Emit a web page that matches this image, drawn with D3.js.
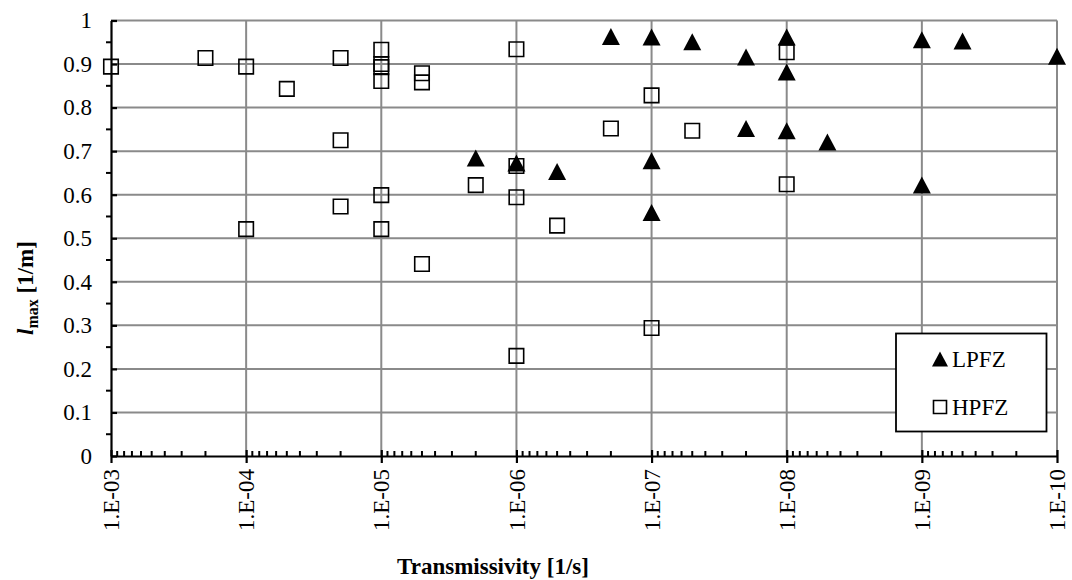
<!DOCTYPE html>
<html><head><meta charset="utf-8">
<script src="https://cdn.jsdelivr.net/npm/d3@7"></script>
<style>body{margin:0;background:#fff}svg{display:block}text{font-family:"Liberation Serif","Times New Roman",serif}</style>
</head><body><svg id="c" width="1072" height="580"></svg>
<script>
// ---- data ----
const lpfzT = [2e-6, 1e-6, 5e-7, 2e-7, 1e-7, 1e-7, 1e-7, 5e-8, 2e-8, 2e-8, 1e-8, 1e-8, 1e-8, 5e-9, 1e-9, 1e-9, 5e-10, 1e-10];
const lpfzL = [0.684, 0.673, 0.653, 0.963, 0.962, 0.678, 0.559, 0.951, 0.916, 0.752, 0.962, 0.882, 0.747, 0.721, 0.956, 0.622, 0.953, 0.918];
const hpfzT = [1e-3, 2e-4, 1e-4, 1e-4, 5e-5, 2e-5, 2e-5, 2e-5, 1e-5, 1e-5, 1e-5, 1e-5, 1e-5, 1e-5, 5e-6, 5e-6, 5e-6, 2e-6, 1e-6, 1e-6, 1e-6, 1e-6, 5e-7, 2e-7, 1e-7, 1e-7, 5e-8, 1e-8, 1e-8];
const hpfzL = [0.894, 0.914, 0.894, 0.521, 0.843, 0.914, 0.725, 0.573, 0.933, 0.900, 0.893, 0.861, 0.599, 0.521, 0.879, 0.858, 0.441, 0.622, 0.934, 0.666, 0.594, 0.230, 0.529, 0.752, 0.828, 0.294, 0.747, 0.927, 0.624];
const xMajor = [1e-3, 1e-4, 1e-5, 1e-6, 1e-7, 1e-8, 1e-9, 1e-10];
const yMajor = [0, 0.1, 0.2, 0.3, 0.4, 0.5, 0.6, 0.7, 0.8, 0.9, 1];
const seriesNames = ["LPFZ", "HPFZ"];
const xTitle = "Transmissivity [1/s]";

// ---- layout ----
const svg = d3.select("#c");
const L = 111, R = 1057, T = 20.5, B = 456;
const x = d3.scaleLog().domain([1e-3, 1e-10]).range([L, R]);
const y = d3.scaleLinear().domain([0, 1]).range([B, T]);
const grid = "#8a8a8a";
const fs = 23;

// gridlines
svg.append("g").selectAll("line").data(yMajor.filter(v => v > 0)).join("line")
  .attr("x1", L).attr("x2", R).attr("y1", d => y(d)).attr("y2", d => y(d))
  .attr("stroke", grid).attr("stroke-width", 2);
svg.append("g").selectAll("line").data(xMajor.slice(1)).join("line")
  .attr("y1", T).attr("y2", B).attr("x1", d => x(d)).attr("x2", d => x(d))
  .attr("stroke", grid).attr("stroke-width", 2);

// minor ticks
const xMinor = x.ticks(80).filter(v => !xMajor.some(m => Math.abs(m - v) / m < 1e-6));
const yMinor = d3.range(0.05, 1, 0.1);

// x axis
const fmt = d => { const e = Math.round(Math.log10(d)); return "1.E-" + String(-e).padStart(2, "0"); };
const xAxis = svg.append("g").attr("transform", `translate(0,${B})`)
  .call(d3.axisBottom(x).tickValues(xMajor).tickFormat(fmt).tickSizeOuter(0).tickSizeInner(7).tickPadding(0));
xAxis.select(".domain").attr("stroke", "#000").attr("stroke-width", 2.2);
xAxis.selectAll(".tick line").attr("stroke", "#000").attr("stroke-width", 2.2).attr("y1", -6);
xAxis.selectAll(".tick text").attr("font-size", fs).attr("fill", "#000")
  .attr("font-family", "Liberation Serif")
  .attr("transform", "rotate(-90)").attr("text-anchor", "end").attr("dy", "0.33em").attr("x", -13).attr("y", 0);
svg.append("g").selectAll("line").data(xMinor).join("line")
  .attr("x1", d => x(d)).attr("x2", d => x(d)).attr("y1", B).attr("y2", B - 5)
  .attr("stroke", "#000").attr("stroke-width", 2);

// y axis
const yAxis = svg.append("g").attr("transform", `translate(${L},0)`)
  .call(d3.axisLeft(y).tickValues(yMajor).tickFormat(d => d === 0 || d === 1 ? String(d) : d.toFixed(1)).tickSizeOuter(0).tickSizeInner(6).tickPadding(13));
yAxis.select(".domain").attr("stroke", "#000").attr("stroke-width", 2.2);
yAxis.selectAll(".tick line").attr("stroke", "#000").attr("stroke-width", 2.2).attr("x2", 6);
yAxis.selectAll(".tick text").attr("font-size", fs).attr("fill", "#000").attr("font-family", "Liberation Serif");
svg.append("g").selectAll("line").data(yMinor).join("line")
  .attr("x1", L - 5).attr("x2", L).attr("y1", d => y(d)).attr("y2", d => y(d))
  .attr("stroke", "#000").attr("stroke-width", 2);

// markers
const tri = (w, h) => `M0,${-h / 2}L${w / 2},${h / 2}L${-w / 2},${h / 2}Z`;
const sq = s => `M${-s / 2},${-s / 2}h${s}v${s}h${-s}Z`;
svg.append("g").selectAll("path").data(lpfzT.map((t, i) => [t, lpfzL[i]])).join("path")
  .attr("d", tri(18, 17)).attr("transform", d => `translate(${x(d[0])},${y(d[1])})`)
  .attr("fill", "#000");
svg.append("g").selectAll("path").data(hpfzT.map((t, i) => [t, hpfzL[i]])).join("path")
  .attr("d", sq(14.5)).attr("transform", d => `translate(${x(d[0])},${y(d[1])})`)
  .attr("fill", "none").attr("stroke", "#000").attr("stroke-width", 1.6);

// legend
const lg = svg.append("g");
lg.append("rect").attr("x", 896).attr("y", 333.5).attr("width", 150.5).attr("height", 98)
  .attr("fill", "#fff").attr("stroke", "#000").attr("stroke-width", 1.8);
lg.append("path").attr("d", tri(16, 15)).attr("transform", "translate(940,359)").attr("fill", "#000");
lg.append("path").attr("d", sq(13)).attr("transform", "translate(940,407)").attr("fill", "none").attr("stroke", "#000").attr("stroke-width", 1.6);
lg.append("text").attr("x", 952).attr("y", 367).attr("font-size", fs).text(seriesNames[0]);
lg.append("text").attr("x", 952).attr("y", 415).attr("font-size", fs).text(seriesNames[1]);

// titles
svg.append("text").attr("x", 493).attr("y", 574).attr("text-anchor", "middle")
  .attr("font-size", fs).attr("font-weight", "bold").text(xTitle);
const yt = svg.append("text").attr("transform", "translate(33,288) rotate(-90)").attr("text-anchor", "middle")
  .attr("font-size", fs).attr("font-weight", "bold");
yt.append("tspan").attr("font-style", "italic").text("l");
yt.append("tspan").attr("font-size", 16).attr("dy", 5).text("max");
yt.append("tspan").attr("dy", -5).text(" [1/m]");
</script></body></html>
